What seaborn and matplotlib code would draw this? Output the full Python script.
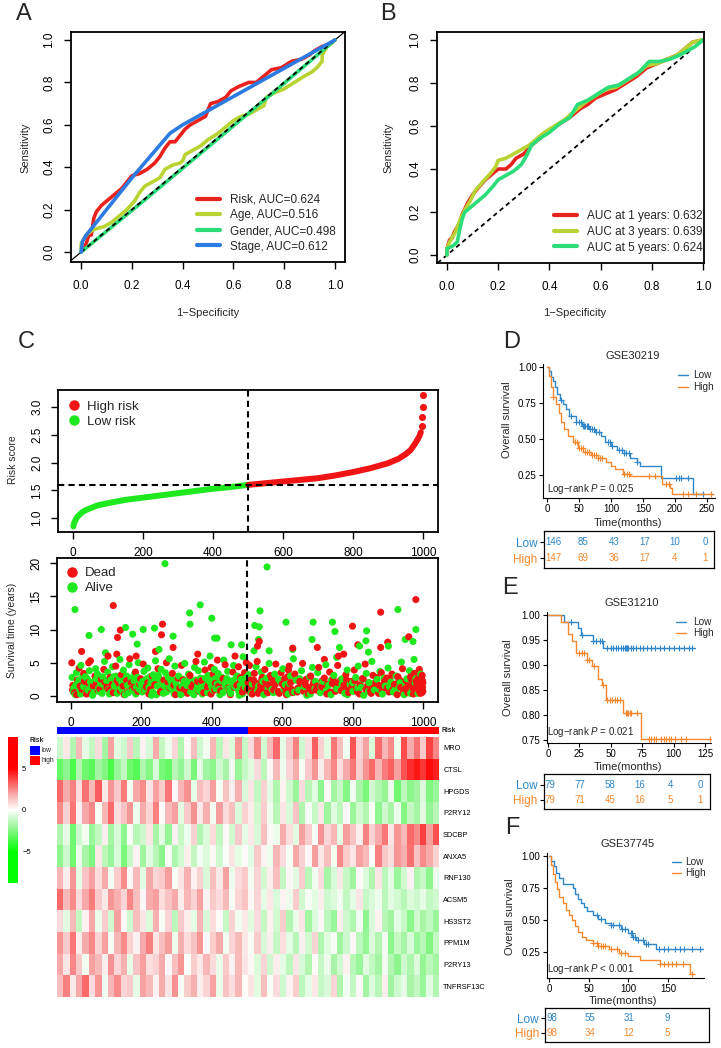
import numpy as np
import pandas as pd
import matplotlib
matplotlib.use("Agg")
import matplotlib.pyplot as plt
import seaborn as sns
from matplotlib.colors import LinearSegmentedColormap, ListedColormap
from matplotlib.lines import Line2D
from matplotlib.patches import Rectangle

sns.set_theme(style="white")
plt.rcParams['font.family'] = ['Liberation Sans', 'DejaVu Sans']
plt.rcParams['mathtext.fontset'] = 'custom'
plt.rcParams['mathtext.rm'] = 'Liberation Sans'
plt.rcParams['mathtext.it'] = 'Liberation Sans:italic'
plt.rcParams['axes.unicode_minus'] = True

# ---------------- DATA ----------------
# Panel A: ROC (fpr, tpr)
roc_risk = [(0, 0), (0.02, 0.04), (0.03, 0.08), (0.04, 0.08), (0.05, 0.16), (0.06, 0.19), (0.08, 0.22),
            (0.10, 0.24), (0.12, 0.26), (0.14, 0.28), (0.16, 0.30), (0.18, 0.33), (0.20, 0.36), (0.23, 0.37),
            (0.26, 0.39), (0.29, 0.42), (0.31, 0.45), (0.33, 0.49), (0.35, 0.52), (0.37, 0.52), (0.39, 0.55),
            (0.41, 0.58), (0.43, 0.60), (0.46, 0.62), (0.49, 0.64), (0.51, 0.70), (0.54, 0.71), (0.57, 0.73),
            (0.59, 0.76), (0.62, 0.78), (0.66, 0.80), (0.69, 0.80), (0.72, 0.83), (0.75, 0.86), (0.79, 0.87),
            (0.83, 0.90), (0.87, 0.91), (0.90, 0.93), (0.92, 0.95), (0.95, 0.97), (0.98, 0.98), (1.0, 1.0)]
roc_age = [(0, 0), (0.0, 0.04), (0.02, 0.08), (0.04, 0.10), (0.06, 0.11), (0.09, 0.12), (0.12, 0.14),
           (0.15, 0.17), (0.18, 0.20), (0.21, 0.24), (0.23, 0.28), (0.25, 0.31), (0.28, 0.33), (0.31, 0.35),
           (0.33, 0.39), (0.36, 0.41), (0.39, 0.42), (0.40, 0.43), (0.41, 0.46), (0.44, 0.48), (0.47, 0.50),
           (0.50, 0.53), (0.54, 0.56), (0.57, 0.59), (0.60, 0.62), (0.63, 0.64), (0.66, 0.65), (0.69, 0.67),
           (0.72, 0.69), (0.73, 0.73), (0.76, 0.75), (0.80, 0.77), (0.84, 0.80), (0.88, 0.83), (0.91, 0.85),
           (0.93, 0.87), (0.95, 0.90), (0.95, 0.93), (0.97, 0.97), (1.0, 1.0)]
roc_gender = [(0, 0), (0.25, 0.245), (0.5, 0.495), (0.75, 0.745), (1.0, 1.0)]
roc_stage = [(0, 0), (0.005, 0.05), (0.02, 0.08), (0.20, 0.35), (0.35, 0.56), (0.40, 0.60), (1.0, 1.0)]
labels_A = ["Risk, AUC=0.624", "Age, AUC=0.516", "Gender, AUC=0.498", "Stage, AUC=0.612"]

# Panel B: time-dependent ROC
roc_1y = [(0, 0.0), (0, 0.03), (0.01, 0.07), (0.02, 0.08), (0.03, 0.11), (0.05, 0.15), (0.06, 0.19),
          (0.08, 0.24), (0.10, 0.28), (0.12, 0.31), (0.15, 0.35), (0.18, 0.38), (0.20, 0.40), (0.23, 0.40),
          (0.25, 0.42), (0.27, 0.45), (0.30, 0.47), (0.33, 0.51), (0.36, 0.54), (0.40, 0.58), (0.44, 0.61),
          (0.48, 0.64), (0.52, 0.68), (0.55, 0.70), (0.58, 0.73), (0.62, 0.75), (0.66, 0.77), (0.70, 0.80),
          (0.74, 0.83), (0.78, 0.87), (0.82, 0.89), (0.86, 0.91), (0.90, 0.93), (0.93, 0.96), (0.96, 0.99),
          (1.0, 1.0)]
roc_3y = [(0, 0), (0, 0.03), (0.01, 0.06), (0.03, 0.10), (0.05, 0.16), (0.07, 0.21), (0.09, 0.25),
          (0.11, 0.30), (0.14, 0.34), (0.17, 0.38), (0.19, 0.41), (0.20, 0.44), (0.23, 0.45), (0.26, 0.47),
          (0.29, 0.49), (0.32, 0.51), (0.35, 0.54), (0.38, 0.57), (0.42, 0.60), (0.46, 0.63), (0.50, 0.67),
          (0.54, 0.71), (0.58, 0.74), (0.62, 0.77), (0.66, 0.78), (0.70, 0.81), (0.74, 0.84), (0.78, 0.88),
          (0.82, 0.89), (0.86, 0.91), (0.90, 0.93), (0.93, 0.96), (0.96, 0.99), (1.0, 1.0)]
roc_5y = [(0, 0), (0, 0.03), (0.02, 0.04), (0.04, 0.06), (0.05, 0.12), (0.06, 0.17), (0.07, 0.20),
          (0.09, 0.22), (0.12, 0.25), (0.15, 0.28), (0.18, 0.32), (0.20, 0.35), (0.23, 0.37), (0.26, 0.39),
          (0.29, 0.42), (0.31, 0.46), (0.33, 0.51), (0.36, 0.54), (0.40, 0.57), (0.44, 0.61), (0.48, 0.64),
          (0.51, 0.70), (0.55, 0.72), (0.59, 0.75), (0.63, 0.78), (0.67, 0.79), (0.71, 0.82), (0.75, 0.85),
          (0.79, 0.90), (0.83, 0.90), (0.87, 0.91), (0.91, 0.93), (0.94, 0.95), (0.97, 0.97), (0.99, 0.99),
          (1.0, 1.0)]
labels_B = ["AUC at 1 years: 0.632", "AUC at 3 years: 0.639", "AUC at 5 years: 0.624"]

# Panel C: risk score curve (patient index, score)
risk_low = [(1, 0.85), (2, 0.88), (3, 0.91), (5, 0.94), (8, 0.98), (12, 1.02), (18, 1.06), (25, 1.10),
            (35, 1.14), (50, 1.18), (70, 1.23), (100, 1.27), (150, 1.33), (200, 1.37), (250, 1.41),
            (300, 1.45), (350, 1.49), (400, 1.53), (450, 1.56), (500, 1.60)]
risk_high = [(501, 1.60), (550, 1.63), (600, 1.66), (650, 1.69), (700, 1.72), (750, 1.77), (800, 1.83),
             (850, 1.90), (900, 1.99), (930, 2.07), (950, 2.15), (965, 2.23), (975, 2.32), (983, 2.40),
             (990, 2.48), (994, 2.55)]
risk_high_tail = [(997, 2.67), (998, 2.82), (999, 3.01), (1000, 3.22)]
risk_cut = 1.6
risk_split = 500.5

# Panel C: survival time scatter (index, years)
alive_pts = [(11, 13.0), (51, 9.1), (86, 10.0), (98, 6.5), (155, 10.3), (175, 9.3), (188, 7.8), (205, 10.0),
             (237, 10.2), (250, 7.0), (267, 19.9), (290, 9.0), (337, 12.5), (338, 10.8), (367, 13.7),
             (400, 11.7), (408, 8.7), (415, 8.7), (395, 6.0), (455, 7.7), (485, 7.7), (520, 6.8),
             (522, 10.6), (535, 10.4), (537, 12.8), (533, 8.5), (557, 19.4), (563, 6.8), (611, 11.1),
             (630, 7.0), (685, 8.5), (688, 11.1), (743, 11.1), (750, 9.7), (763, 7.3), (820, 7.5),
             (840, 9.8), (838, 8.3), (845, 6.6), (929, 13.0), (902, 7.5), (950, 8.5), (972, 8.2),
             (975, 5.5), (980, 10.0),
             (3, 2.8), (8, 1.2), (12, 0.2), (15, 3.5), (20, 2.0), (25, 0.9), (28, 4.6), (33, 3.1), (38, 1.8),
             (42, 0.4), (46, 2.6), (52, 3.8), (57, 1.3), (61, 0.1), (66, 2.2), (70, 4.1), (75, 3.3), (80, 0.7),
             (84, 1.9), (90, 2.9), (95, 5.2), (99, 1.1), (104, 3.6), (109, 0.3), (113, 2.4), (118, 4.4),
             (123, 1.5), (128, 3.0), (134, 0.8), (139, 5.5), (144, 2.1), (149, 3.9), (154, 0.2), (160, 1.6),
             (165, 4.7), (170, 2.7), (176, 0.9), (181, 3.4), (186, 1.3), (191, 5.0), (196, 2.3), (202, 0.6),
             (207, 3.7), (212, 1.8), (218, 4.2), (224, 2.9), (229, 0.1), (234, 3.2), (240, 5.3), (245, 1.5),
             (251, 2.6), (256, 4.0), (262, 0.4), (268, 3.5), (273, 1.9), (279, 5.6), (284, 2.2), (290, 0.8),
             (295, 4.5), (301, 1.2), (306, 3.0), (312, 0.2), (318, 2.5), (323, 4.9), (329, 1.6), (334, 3.3),
             (340, 0.6), (346, 2.0), (351, 4.3), (357, 1.0), (362, 3.8), (368, 2.7), (373, 0.3), (379, 5.1),
             (385, 1.7), (390, 3.1), (396, 0.5), (401, 2.4), (407, 4.0), (412, 1.1), (418, 3.4), (423, 0.2),
             (429, 2.8), (434, 5.4), (440, 1.4), (445, 3.7), (451, 0.7), (456, 2.1), (462, 4.6), (467, 1.8),
             (473, 3.0), (478, 0.1), (484, 2.5), (489, 5.9), (495, 1.3), (505, 3.2), (512, 0.4), (518, 2.0),
             (526, 4.4), (533, 1.5), (541, 3.6), (548, 0.2), (556, 2.7), (563, 4.9), (571, 1.0), (579, 3.3),
             (586, 0.6), (594, 2.2), (602, 4.1), (609, 1.7), (617, 0.3), (624, 3.0), (632, 5.6), (640, 2.4),
             (647, 0.9), (655, 3.8), (663, 1.4), (670, 0.1), (678, 2.9), (686, 4.3), (693, 1.1), (701, 3.5),
             (709, 0.5), (716, 2.2), (724, 4.7), (732, 1.6), (739, 0.2), (747, 3.1), (755, 5.8), (762, 1.0),
             (770, 2.6), (778, 0.4), (785, 3.9), (793, 1.8), (801, 0.7), (809, 2.8), (816, 4.5), (824, 1.3),
             (832, 0.1), (839, 3.4), (847, 2.0), (855, 5.2), (862, 0.9), (870, 2.5), (878, 3.7), (885, 0.3),
             (893, 1.5), (901, 4.2), (909, 2.1), (916, 0.6), (924, 3.0), (932, 1.2), (939, 5.1), (947, 0.2),
             (955, 2.6), (962, 3.8), (970, 1.0), (978, 2.0), (986, 0.4), (994, 3.3),
             (6, 0.6), (14, 1.7), (22, 2.4), (27, 0.3), (35, 1.4), (40, 2.9), (48, 0.9), (55, 2.1), (59, 1.6),
             (64, 0.5), (72, 2.6), (78, 1.2), (88, 0.4), (92, 1.7), (101, 2.3), (107, 1.0), (115, 0.6),
             (121, 2.9), (126, 1.9), (131, 0.4), (137, 2.6), (142, 1.2), (147, 0.7), (152, 2.4), (158, 3.0),
             (163, 0.5), (168, 1.9), (173, 1.2), (179, 2.3), (184, 0.3), (189, 2.8), (194, 1.0), (199, 1.7),
             (204, 2.2), (210, 0.9), (215, 2.6), (221, 1.3), (227, 2.0), (232, 0.6), (238, 2.4), (243, 0.2),
             (248, 3.1), (254, 1.1), (259, 2.0), (265, 1.5), (271, 0.6), (276, 2.8), (282, 1.3), (287, 2.5),
             (293, 0.3), (298, 1.9), (304, 2.6), (309, 0.9), (315, 1.5), (321, 2.2), (326, 0.5), (332, 1.9),
             (337, 2.8), (343, 1.3), (349, 0.2), (354, 2.4), (360, 1.6), (365, 0.8), (371, 2.0), (376, 1.4),
             (382, 2.7), (388, 0.5), (393, 2.2), (399, 1.5), (404, 0.9), (410, 2.6), (415, 1.8), (421, 1.0),
             (426, 2.3), (432, 0.5), (437, 1.9), (443, 2.6), (448, 1.1), (454, 0.4), (459, 2.3), (465, 1.4),
             (470, 2.9), (476, 0.8), (481, 1.6), (487, 0.3), (492, 2.1), (498, 2.8),
             (515, 1.8), (530, 0.8), (545, 2.2), (560, 1.2), (575, 0.5), (590, 2.5), (605, 1.0), (620, 1.9),
             (635, 0.6), (650, 2.6), (665, 1.5), (680, 0.3), (695, 2.2), (710, 1.4), (725, 0.8), (740, 2.4),
             (755, 1.1), (770, 1.8), (785, 0.2), (800, 2.0), (815, 1.2), (830, 2.5), (845, 0.7), (860, 1.9),
             (875, 1.0), (890, 2.7), (905, 1.4), (920, 0.9), (935, 2.0), (950, 1.5), (965, 0.4), (980, 2.6)]
dead_pts = [(2, 5.0), (30, 6.7), (50, 5.0), (120, 13.6), (132, 8.8), (140, 9.9), (105, 6.0), (130, 6.3),
            (185, 6.0), (240, 6.7), (260, 10.8), (257, 9.2), (290, 7.3), (360, 6.3), (398, 4.3), (530, 7.5),
            (535, 8.2), (630, 7.2), (700, 7.3), (760, 6.0), (800, 10.5), (815, 7.7), (880, 7.3), (880, 12.6),
            (900, 8.1), (960, 8.9), (980, 14.5), (990, 4.0), (720, 5.5), (775, 6.3), (618, 3.9),
            (5, 1.6), (10, 0.5), (18, 2.4), (23, 4.2), (31, 1.0), (36, 3.4), (44, 0.3), (49, 2.0), (55, 5.3),
            (63, 1.5), (68, 3.0), (77, 0.8), (86, 2.5), (93, 4.0), (102, 1.3), (111, 2.8), (120, 0.5),
            (127, 4.5), (136, 1.9), (143, 3.2), (151, 0.2), (158, 2.3), (167, 5.6), (174, 1.1), (183, 3.6),
            (190, 0.7), (198, 2.6), (205, 4.8), (214, 1.4), (221, 0.3), (231, 3.0), (238, 1.7), (247, 4.1),
            (254, 0.6), (264, 2.4), (271, 5.0), (281, 1.2), (288, 3.4), (297, 0.2), (304, 2.7), (314, 4.6),
            (321, 1.0), (331, 0.4), (338, 3.1), (348, 1.8), (355, 5.2), (364, 0.7), (371, 2.3), (381, 3.9),
            (388, 1.4), (398, 0.3), (404, 3.3), (410, 1.9), (416, 5.4), (425, 0.8), (432, 2.6), (438, 4.7),
            (447, 1.2), (453, 0.2), (460, 3.6), (466, 6.0), (471, 1.6), (476, 4.4), (482, 2.8), (487, 0.6),
            (493, 3.5), (498, 5.0), (502, 1.1), (507, 4.6), (510, 2.4), (515, 0.3), (521, 3.4), (524, 1.7),
            (529, 5.2), (537, 0.9), (544, 2.8), (551, 4.0), (554, 1.3), (560, 0.5), (567, 3.1), (574, 2.1),
            (582, 4.8), (589, 0.7), (597, 3.5), (605, 1.5), (612, 0.2), (615, 2.9), (620, 4.5), (627, 1.0),
            (636, 3.3), (643, 0.6), (650, 2.2), (658, 4.9), (666, 1.7), (674, 0.4), (681, 3.0), (689, 2.0),
            (696, 0.9), (704, 4.3), (712, 1.4), (720, 2.7), (727, 0.3), (735, 3.6), (743, 1.9), (751, 0.7),
            (758, 4.6), (766, 2.4), (774, 1.1), (781, 3.2), (789, 0.5), (797, 2.2), (805, 3.9), (812, 1.2),
            (820, 0.3), (828, 2.6), (836, 4.8), (843, 1.6), (851, 0.8), (858, 3.1), (866, 2.0), (874, 0.4),
            (882, 3.5), (889, 1.4), (897, 2.7), (904, 0.6), (912, 3.3), (919, 1.7), (927, 0.2), (934, 2.4),
            (942, 4.1), (950, 1.1), (957, 0.5), (965, 2.9), (968, 1.6), (973, 0.3), (976, 3.4), (981, 2.2),
            (984, 0.9), (988, 1.4), (991, 2.7), (993, 0.4), (996, 1.8), (998, 3.1), (1000, 0.7), (999, 2.3),
            (995, 1.0),
            (4, 0.9), (16, 0.2), (26, 1.5), (38, 2.2), (47, 0.9), (58, 0.4), (71, 1.8), (82, 1.1), (96, 2.1),
            (108, 0.9), (116, 1.7), (131, 2.3), (140, 0.8), (148, 1.5), (162, 0.6), (171, 2.0), (180, 1.3),
            (195, 1.8), (209, 0.9), (218, 2.0), (226, 1.0), (243, 1.6), (258, 0.8), (275, 2.1), (292, 1.6),
            (309, 1.2), (318, 2.4), (326, 0.9), (343, 1.4), (360, 2.2), (377, 0.5), (392, 1.9), (408, 0.9),
            (420, 1.5), (436, 2.2), (450, 0.7), (464, 1.3), (479, 2.0), (490, 1.1),
            (503, 2.0), (506, 0.7), (512, 1.5), (519, 2.4), (523, 0.9), (527, 1.9), (532, 0.4), (539, 1.6),
            (542, 2.5), (547, 1.0), (553, 2.1), (558, 0.6), (562, 1.6), (570, 2.7), (576, 0.9), (580, 1.7),
            (586, 2.3), (592, 0.4), (600, 1.8), (607, 2.6), (611, 0.8), (618, 1.5), (624, 2.0), (630, 0.5),
            (639, 2.4), (645, 1.2), (653, 1.9), (661, 0.7), (668, 2.5), (676, 1.3), (684, 0.8), (692, 2.2),
            (699, 1.5), (707, 0.6), (714, 2.3), (722, 1.1), (730, 1.8), (737, 0.6), (745, 2.6), (753, 1.3),
            (760, 2.0), (768, 0.8), (776, 1.6), (783, 2.4), (791, 0.9), (799, 1.5), (807, 2.3), (814, 0.6),
            (822, 1.7), (830, 2.6), (838, 1.0), (846, 2.0), (853, 0.4), (861, 1.3), (868, 2.8), (876, 1.6),
            (884, 0.7), (891, 2.2), (899, 1.2), (906, 2.5), (914, 0.9), (922, 1.8), (929, 2.9), (937, 1.3),
            (944, 0.4), (952, 2.3), (959, 1.5), (963, 0.8), (967, 2.5), (971, 1.2), (974, 2.0), (979, 0.6),
            (983, 1.7), (986, 2.6), (989, 0.8), (992, 1.5), (994, 2.4), (997, 0.5), (999, 1.3), (1000, 2.0)]

# Panel C: heatmap (12 genes x 60 sample groups, low risk then high risk)
genes = ["MRO", "CTSL", "HPGDS", "P2RY12", "SDCBP", "ANXA5", "RNF130", "ACSM5", "HS3ST2", "PPM1M",
         "P2RY13", "TNFRSF13C"]
expr_MRO = [-1.0, 0.5, -1.5, 1.5, -0.5, -1.2, 0.8, -1.8, 2.0, -0.6, -1.0, 1.2, -1.4, 0.3, -0.8, 1.8, -1.2, -0.4, 0.9, -1.6,
            0.2, 1.4, -1.0, -0.3, 1.6, -1.3, 0.6, -0.7, 2.2, -1.1,
            0.8, 2.4, -0.9, 1.5, 3.0, -0.5, 1.2, 2.6, -1.0, 0.7, 3.2, 1.0, -0.6, 2.8, 1.4, -0.3, 3.4, 0.9, 2.0, -0.8,
            3.0, 1.6, 2.4, -0.4, 3.6, 1.8, 2.9, 1.2, 3.8, 2.5]
expr_CTSL = [-3.0, -2.2, -3.5, -1.5, -2.8, -3.2, -1.8, -2.5, -3.6, -2.0, -1.2, -2.9, -3.3, -1.6, -2.4, -0.8, -2.7, -3.0, -1.4, -2.1,
             -1.0, -2.6, -0.5, -1.9, -2.3, -0.9, -1.7, -0.3, -2.0, -1.1,
             -0.6, 0.8, -1.3, 0.2, 1.5, -0.4, 0.9, 1.8, -0.2, 1.2, 2.2, 0.4, 1.6, 2.5, 0.7, 1.9, 2.8, 1.1, 2.3, 3.0,
             1.6, 2.7, 3.2, 2.0, 3.4, 4.2, 4.6, 4.0, 4.8, 4.4]
expr_HPGDS = [3.0, 1.8, 2.6, 0.8, 2.9, 1.5, 3.3, 0.5, 2.2, 1.2, 2.7, -0.3, 1.9, 2.4, 0.6, 2.0, 1.1, 2.8, 0.2, 1.6,
              2.3, -0.5, 1.4, 0.9, 2.1, -0.2, 1.3, 0.4, 1.7, -0.8,
              0.6, -1.2, 1.0, -0.5, -1.6, 0.3, -1.0, -2.0, 0.8, -1.4, -0.6, -2.2, 0.2, -1.8, -1.1, -2.4, -0.3, -1.7, -2.6, -0.9,
              -1.5, -2.1, -0.4, -2.8, -1.3, -2.3, -1.9, -0.7, -2.5, -2.0]
expr_P2RY12 = [2.4, 1.0, 2.8, 0.3, 1.9, 2.5, -0.2, 1.6, 3.0, 0.7, 1.3, 2.2, -0.4, 1.8, 0.9, 2.6, 0.1, 1.5, 2.0, -0.6,
               1.2, 2.3, 0.5, 1.7, -0.3, 2.1, 0.8, 1.4, -0.7, 1.0,
               0.4, -0.9, 1.1, -0.3, -1.4, 0.6, -0.8, 1.3, -1.6, -0.2, -1.1, 0.5, -1.9, -0.6, -1.3, 0.2, -2.0, -0.9, -1.5, -0.1,
               -2.2, -1.0, -1.7, -0.4, -2.4, -1.2, -1.8, -0.6, -2.1, -1.4]
expr_SDCBP = [-1.5, -0.5, -2.8, -1.0, -0.3, -2.0, -1.2, 0.4, -1.8, -0.8, -2.3, -0.2, -1.4, -1.0, 0.6, -1.7, -0.6, -2.1, 0.3, -1.1,
              -0.4, 1.0, -1.5, -0.7, 0.8, -1.2, 0.2, -0.9, 1.2, -0.5,
              0.5, -0.8, 1.4, 0.2, -0.4, 1.8, 0.7, -0.6, 2.0, 1.1, -0.2, 2.3, 0.9, 1.6, -0.5, 2.1, 1.3, 0.4, 2.6, 1.0,
              1.9, 2.8, 0.6, 2.2, 1.5, 3.0, 2.4, 3.8, 2.0, 3.5]
expr_ANXA5 = [-2.2, -1.0, -2.8, -0.4, -1.7, -2.5, 0.5, -1.3, -2.0, -0.8, -2.6, -1.1, 0.3, -1.9, -0.6, -1.4, -2.3, -0.2, -1.6, -0.9,
              0.4, -1.2, -0.3, -0.7, 0.2, -1.0, -0.1, 0.6, -0.5, 0.1,
              -0.6, 1.2, 0.3, -0.4, 1.6, 0.8, -0.2, 1.9, 1.0, 0.2, 2.1, 0.5, 1.4, -0.3, 2.4, 1.1, 0.6, 2.0, 1.5, -0.1,
              2.6, 1.2, 0.7, 2.2, 1.7, 2.9, 1.3, 2.4, 1.8, 1.0]
expr_RNF130 = [1.6, 0.4, 2.2, -0.5, 1.3, 2.0, 0.7, 1.8, -0.3, 1.1, 2.4, 0.2, 1.5, -0.6, 1.9, 0.9, 1.2, 2.1, -0.2, 0.6,
               1.7, 0.3, 1.0, -0.8, 1.4, 0.5, 2.0, -0.4, 0.8, 1.2,
               -0.3, 1.0, -0.9, 0.4, 1.4, -1.2, 0.2, -0.6, 1.1, -1.4, -0.3, 0.7, -1.7, -0.8, 0.5, -1.1, -1.9, 0.1, -0.7, -1.5,
               0.6, -1.3, -0.5, -2.0, -0.9, 0.3, -1.6, -1.1, -2.2, -0.4]
expr_ACSM5 = [3.0, 1.5, 2.4, 0.8, 1.9, 2.7, 1.2, 0.5, 2.2, 1.7, 0.9, 2.5, 1.4, 0.2, 1.8, 2.1, 0.7, 1.3, 1.9, 0.4,
              1.6, 1.0, 2.0, 0.3, 1.2, 0.8, 1.5, -0.2, 0.9, 1.3,
              0.2, 0.9, -0.5, 0.5, -0.8, 0.3, -0.4, 1.1, -0.9, -0.2, -0.6, 0.4, -1.0, -0.7, -0.3, -1.2, -0.5, 0.6, -1.1, -0.8,
              -0.4, -1.3, -0.6, -0.9, -1.4, -0.7, -1.0, -0.5, -1.2, -0.9]
expr_HS3ST2 = [0.8, -0.6, 1.5, -1.2, 0.3, 1.9, -0.4, 1.1, -0.9, 2.0, 0.2, -1.0, 1.4, 0.6, -0.7, 1.7, -0.2, 0.9, -1.3, 1.2,
               0.4, -0.5, 1.6, -0.8, 0.7, 0.1, -1.1, 1.0, -0.3, 0.5,
               -0.6, 0.8, -1.2, 0.3, -0.9, 1.1, -1.5, -0.4, 0.6, -1.8, -0.7, 0.2, -1.3, -2.0, 0.4, -1.0, -1.6, -0.3, -2.2, -0.8,
               0.3, -1.4, -1.9, -0.5, -1.1, -2.3, -0.9, -1.7, -1.2, -2.0]
expr_PPM1M = [2.2, 1.2, 2.8, 0.4, 1.8, 2.5, 0.9, 2.0, -0.2, 1.6, 2.4, 1.0, 0.3, 1.9, 2.6, 0.6, 1.4, 2.1, -0.4, 1.7,
              0.8, 1.3, 2.2, 0.2, 1.1, 1.8, -0.3, 0.9, 1.5, 0.5,
              -0.2, 1.1, -0.8, 0.4, -1.1, 0.7, -0.5, -1.4, 0.3, -0.9, 0.9, -1.6, -0.6, -0.2, -1.9, -1.0, 0.2, -1.3, -2.1, -0.7,
              -1.5, -0.3, -2.3, -1.1, -1.7, -0.8, -2.0, -1.4, -2.5, -1.2]
expr_P2RY13 = [1.9, 0.6, 2.5, 1.2, -0.3, 2.0, 1.5, 0.4, 2.3, 0.9, 1.7, -0.5, 1.3, 2.1, 0.7, 1.0, 1.8, 0.2, 1.4, 2.2,
               -0.1, 1.1, 0.5, 1.6, 0.8, -0.4, 1.2, 0.3, 1.5, 0.6,
               0.2, -0.7, 0.9, -1.0, 0.4, -0.5, -1.3, 0.6, -0.8, -1.5, 0.1, -1.1, -0.4, -1.7, -0.9, 0.3, -1.4, -2.0, -0.6, -1.2,
               -1.8, -0.3, -1.5, -2.2, -1.0, -1.6, -0.7, -2.1, -1.3, -1.8]
expr_TNFRSF13C = [1.4, 2.6, 0.5, 1.9, 3.0, 0.8, 2.2, -0.3, 1.6, 2.4, 0.9, 1.2, -0.5, 2.0, 1.5, 0.3, 1.8, 0.6, 2.3, -0.2,
                  1.1, 1.7, 0.4, 0.9, 2.0, -0.4, 1.3, 0.7, 1.6, 0.1,
                  0.6, -0.6, 1.4, -0.2, 0.8, -1.0, 0.3, 1.1, -1.3, -0.5, 0.5, -1.1, -0.8, 0.9, -1.6, -0.3, -1.2, 0.2, -1.8, -0.7,
                  -1.4, 0.4, -1.9, -1.0, -0.5, -1.7, -1.2, -2.0, -0.6, -1.5]
risk_group = [0] * 30 + [1] * 30   # 0 = low, 1 = high

# Panels D-F: Kaplan-Meier step data (time in months, survival)
D_low = [(0, 1.0), (3, 0.97), (6, 0.93), (9, 0.90), (12, 0.86), (15, 0.81), (20, 0.77), (25, 0.74), (30, 0.71),
         (35, 0.66), (45, 0.62), (55, 0.59), (65, 0.57), (75, 0.55), (85, 0.52), (90, 0.48), (100, 0.45),
         (110, 0.42), (120, 0.40), (130, 0.37), (140, 0.34), (145, 0.31), (178, 0.23), (228, 0.12)]
D_low_end = 245
D_low_cens = [22, 38, 45, 50, 53, 56, 58, 60, 62, 64, 67, 70, 73, 77, 82, 95, 98, 101, 112, 117, 120, 123, 128,
              140, 202, 206, 210, 220, 244]
D_high = [(0, 1.0), (3, 0.94), (7, 0.86), (10, 0.79), (14, 0.74), (18, 0.68), (22, 0.62), (27, 0.57), (33, 0.52),
          (40, 0.48), (48, 0.44), (57, 0.41), (68, 0.39), (80, 0.37), (92, 0.34), (100, 0.31), (106, 0.29),
          (118, 0.26), (130, 0.24), (179, 0.19), (192, 0.16), (196, 0.12)]
D_high_end = 259
D_high_cens = [10, 44, 47, 50, 53, 56, 60, 63, 66, 70, 73, 76, 80, 83, 86, 120, 125, 128, 160, 168, 186, 190,
               212, 220, 233, 256]
D_times = [0, 50, 100, 150, 200, 250]
D_n_low = [146, 85, 43, 17, 10, 0]
D_n_high = [147, 69, 36, 17, 4, 1]

E_low = [(0, 1.0), (13, 0.987), (24, 0.974), (26, 0.961), (36, 0.948), (44, 0.935)]
E_low_end = 117
E_low_cens = [18, 27, 36, 38, 41, 43, 47, 50, 52, 54, 56, 58, 60, 61, 62, 63, 64, 66, 68, 70, 73, 76, 79, 82, 85,
              89, 92, 96, 100, 104, 108, 112, 115]
E_high = [(0, 1.0), (10, 0.987), (16, 0.962), (19, 0.949), (22, 0.924), (31, 0.911), (35, 0.898), (40, 0.872),
          (43, 0.860), (46, 0.830), (60, 0.805), (74, 0.753)]
E_high_end = 130
E_high_cens = [25, 27, 29, 31, 33, 37, 44, 47, 49, 51, 53, 55, 57, 62, 63, 64, 65, 66, 71, 80, 82, 84, 86, 90, 92,
               94, 96, 98, 101, 106, 110, 129]
E_times = [0, 25, 50, 75, 100, 125]
E_n_low = [79, 77, 58, 16, 4, 0]
E_n_high = [79, 71, 45, 16, 5, 1]

F_low = [(0, 1.0), (3, 0.96), (6, 0.92), (9, 0.87), (12, 0.83), (17, 0.78), (30, 0.75), (33, 0.70), (36, 0.66),
         (40, 0.63), (44, 0.60), (48, 0.57), (55, 0.54), (62, 0.51), (70, 0.48), (78, 0.46), (90, 0.43),
         (100, 0.40), (105, 0.37), (110, 0.34), (120, 0.31), (135, 0.27)]
F_low_end = 194
F_low_cens = [60, 65, 78, 80, 88, 92, 96, 103, 104, 106, 108, 112, 118, 122, 125, 138, 145, 150, 158, 165, 170,
              180, 190]
F_high = [(0, 1.0), (2, 0.93), (5, 0.86), (8, 0.80), (10, 0.74), (13, 0.68), (17, 0.63), (21, 0.58), (25, 0.54),
          (29, 0.50), (33, 0.45), (37, 0.41), (42, 0.37), (47, 0.34), (55, 0.32), (62, 0.30), (75, 0.27),
          (88, 0.24), (100, 0.22), (115, 0.19), (140, 0.16), (177, 0.08)]
F_high_end = 182
F_high_cens = [55, 60, 62, 66, 68, 70, 78, 85, 90, 95, 140, 145, 150, 155, 160, 168, 180]
F_times = [0, 50, 100, 150]
F_n_low = [98, 55, 31, 9]
F_n_high = [98, 34, 12, 5]

# ---------------- STYLE ----------------
W, H = 721, 1048
RED, YG, GRN, BLU = "#E8231E", "#B8D332", "#2BDC78", "#2C7BE0"
PT_RED, PT_GRN = "#F01414", "#1EE81E"
KM_BLUE, KM_ORANGE = "#2F86C8", "#F5882C"


def fx(x):
    return x / W


def fy(y):
    return 1 - y / H


def rect(l, t, r, b):
    return [l / W, 1 - b / H, (r - l) / W, (b - t) / H]


fig = plt.figure(figsize=(W / 100, H / 100), dpi=100)
fig.patch.set_facecolor("white")


def r_box(ax, xticks, yticks, xfmt, yfmt, fs=8.5, xpad=8.0, ypad=6.5):
    ax.set_xticks(xticks)
    ax.set_yticks(yticks)
    ax.set_xticklabels([xfmt.format(v) for v in xticks])
    ax.set_yticklabels([yfmt.format(v) for v in yticks], rotation=90, va="center")
    for s in ax.spines.values():
        s.set_visible(True)
        s.set_linewidth(1.3)
        s.set_color("black")
    ax.tick_params(direction="out", length=5, width=1.0, colors="black", labelsize=fs,
                   left=True, bottom=True, top=False, right=False)
    ax.tick_params(axis="x", pad=xpad)
    ax.tick_params(axis="y", pad=ypad)
    ax.set_xlabel("")
    ax.set_ylabel("")


def draw_curve(ax, pts, color, lw):
    xs = [p[0] for p in pts]
    ys = [p[1] for p in pts]
    sns.lineplot(x=xs, y=ys, sort=False, estimator=None, color=color, lw=lw, ax=ax)


# ---------------- PANEL A ----------------
axA = fig.add_axes(rect(71, 32, 345, 262))
axA.axline((0, 0), (1, 1), color="black", lw=0.9)
draw_curve(axA, roc_risk, RED, 2.6)
draw_curve(axA, roc_age, YG, 2.6)
draw_curve(axA, roc_gender, GRN, 2.6)
axA.plot([0, 1], [0, 1], color="black", lw=1.3, dashes=(2.5, 2))
draw_curve(axA, roc_stage, BLU, 2.6)
axA.set_xlim(-0.04, 1.04)
axA.set_ylim(-0.047, 1.038)
r_box(axA, [0, 0.2, 0.4, 0.6, 0.8, 1.0], [0, 0.2, 0.4, 0.6, 0.8, 1.0], "{:.1f}", "{:.1f}")
hA = [Line2D([0], [0], color=c, lw=3) for c in [RED, YG, GRN, BLU]]
axA.legend(hA, labels_A, loc="lower right", bbox_to_anchor=(1.0, 0.0), frameon=False, fontsize=8.5,
           handlelength=2.0, handletextpad=0.8, labelspacing=0.3, borderaxespad=0.4)
fig.text(fx(24), fy(14), "A", fontsize=17, ha="center", va="center")
fig.text(fx(208), fy(313), "1\u2212Specificity", fontsize=8, ha="center", va="center")
fig.text(fx(25), fy(148), "Sensitivity", fontsize=8, ha="center", va="center", rotation=90)

# ---------------- PANEL B ----------------
axB = fig.add_axes(rect(437, 32, 704, 263))
axB.axline((0, 0), (1, 1), color="black", lw=1.3, dashes=(2.5, 2))
draw_curve(axB, roc_1y, RED, 2.6)
draw_curve(axB, roc_3y, YG, 2.6)
draw_curve(axB, roc_5y, GRN, 2.6)
axB.set_xlim(-0.039, 1.004)
axB.set_ylim(-0.037, 1.037)
r_box(axB, [0, 0.2, 0.4, 0.6, 0.8, 1.0], [0, 0.2, 0.4, 0.6, 0.8, 1.0], "{:.1f}", "{:.1f}")
hB = [Line2D([0], [0], color=c, lw=3) for c in [RED, YG, GRN]]
axB.legend(hB, labels_B, loc="lower right", bbox_to_anchor=(1.03, 0.0), frameon=False, fontsize=8.5,
           handlelength=2.0, handletextpad=0.8, labelspacing=0.3, borderaxespad=0.4)
fig.text(fx(388), fy(14), "B", fontsize=17, ha="center", va="center")
fig.text(fx(575), fy(313), "1\u2212Specificity", fontsize=8, ha="center", va="center")
fig.text(fx(388), fy(148), "Sensitivity", fontsize=8, ha="center", va="center", rotation=90)

# ---------------- PANEL C: risk score ----------------
fig.text(fx(26), fy(342), "C", fontsize=17, ha="center", va="center")
axC1 = fig.add_axes(rect(58, 390, 438, 532))
draw_curve(axC1, risk_low, PT_GRN, 4.3)
draw_curve(axC1, risk_high, PT_RED, 4.3)
tail = pd.DataFrame(risk_high_tail, columns=["idx", "score"])
sns.scatterplot(data=tail, x="idx", y="score", color=PT_RED, s=26, linewidth=0, ax=axC1)
axC1.axhline(risk_cut, color="black", lw=1.5, dashes=(3, 2))
axC1.axvline(risk_split, color="black", lw=1.5, dashes=(3, 2))
axC1.set_xlim(-43, 1043)
axC1.set_ylim(0.75, 3.31)
r_box(axC1, [0, 200, 400, 600, 800, 1000], [1.0, 1.5, 2.0, 2.5, 3.0], "{:d}", "{:.1f}", xpad=6.0, ypad=5.5)
hC1 = [Line2D([0], [0], ls="none", marker="o", ms=6.5, color=c) for c in [PT_RED, PT_GRN]]
axC1.legend(hC1, ["High risk", "Low risk"], loc="upper left", bbox_to_anchor=(0.0, 1.0), frameon=False,
            fontsize=9.5, handlelength=0.8, handletextpad=0.6, labelspacing=0.2, borderaxespad=0.4)
fig.text(fx(13), fy(460), "Risk score", fontsize=7.5, ha="center", va="center", rotation=90)

# ---------------- PANEL C: survival time ----------------
axC2 = fig.add_axes(rect(57, 558, 438, 702))
surv_df = pd.concat([pd.DataFrame(alive_pts, columns=["idx", "years"]).assign(status="Alive"),
                     pd.DataFrame(dead_pts, columns=["idx", "years"]).assign(status="Dead")])
surv_df = surv_df.sort_values("idx", kind="stable")
sns.scatterplot(data=surv_df, x="idx", y="years", hue="status", palette={"Alive": PT_GRN, "Dead": PT_RED},
                s=26, linewidth=0, legend=False, ax=axC2)
axC2.axvline(risk_split, color="black", lw=1.5, dashes=(3, 2))
axC2.set_xlim(-40, 1043)
axC2.set_ylim(-0.9, 20.75)
r_box(axC2, [0, 200, 400, 600, 800, 1000], [0, 5, 10, 15, 20], "{:d}", "{:d}", xpad=6.0, ypad=5.5)
hC2 = [Line2D([0], [0], ls="none", marker="o", ms=6.5, color=c) for c in [PT_RED, PT_GRN]]
axC2.legend(hC2, ["Dead", "Alive"], loc="upper left", bbox_to_anchor=(0.0, 1.0), frameon=False,
            fontsize=9.5, handlelength=0.8, handletextpad=0.6, labelspacing=0.2, borderaxespad=0.3)
fig.text(fx(12), fy(630), "Survival time (years)", fontsize=7.5, ha="center", va="center", rotation=90)

# ---------------- PANEL C: heatmap ----------------
expr = pd.DataFrame([expr_MRO, expr_CTSL, expr_HPGDS, expr_P2RY12, expr_SDCBP, expr_ANXA5, expr_RNF130,
                     expr_ACSM5, expr_HS3ST2, expr_PPM1M, expr_P2RY13, expr_TNFRSF13C], index=genes)
gwr = LinearSegmentedColormap.from_list(
    "gwr", [(0.0, "#00FF00"), (0.213, "#00FF00"), (0.40, "#A8F5A8"), (0.5, "#FFFFFF"),
            (0.60, "#F7B0B0"), (0.787, "#FF0000"), (1.0, "#FF0000")])
hax = fig.add_axes(rect(57, 737, 439, 997))
cax = fig.add_axes(rect(8, 737, 18, 883))
sns.heatmap(expr, cmap=gwr, vmin=-8.7, vmax=8.7, ax=hax, cbar_ax=cax, xticklabels=False,
            yticklabels=genes, cbar_kws={"ticks": [-5, 0, 5]}, linewidths=0, rasterized=True)
hax.yaxis.tick_right()
hax.set_yticklabels(genes, rotation=0, fontsize=5.3, color="black")
hax.tick_params(length=0, pad=3, right=True, left=False)
hax.set_xlabel("")
hax.set_ylabel("")
cb = hax.collections[0].colorbar
cb.outline.set_visible(False)
cax.tick_params(labelsize=5.5, length=0, pad=3, colors="black")

rax = fig.add_axes(rect(57, 727, 439, 734))
sns.heatmap(pd.DataFrame([risk_group]), cmap=ListedColormap(["#0000FF", "#FF0000"]), vmin=0, vmax=1,
            cbar=False, xticklabels=False, yticklabels=False, ax=rax, rasterized=True)
rax.set_xlabel("")
rax.set_ylabel("")
fig.text(fx(442), fy(731), "Risk", fontsize=4.8, weight="bold", ha="left", va="center")
fig.text(fx(30), fy(740), "Risk", fontsize=4.8, weight="bold", ha="left", va="center")
fig.add_artist(Rectangle((fx(30), fy(755)), 10 / W, 9 / H, transform=fig.transFigure, color="#0000FF", lw=0))
fig.add_artist(Rectangle((fx(30), fy(765)), 10 / W, 9 / H, transform=fig.transFigure, color="#FF0000", lw=0))
fig.text(fx(42), fy(750), "low", fontsize=4.8, ha="left", va="center")
fig.text(fx(42), fy(760), "high", fontsize=4.8, ha="left", va="center")


# ---------------- PANELS D-F ----------------
def surv_at(steps, t):
    times = [p[0] for p in steps]
    i = int(np.searchsorted(times, t, side="right")) - 1
    return steps[i][1]


def km_panel(r, xlim, ylim, xticks, yticks, curves):
    ax = fig.add_axes(r)
    for steps, end, cens, col in curves:
        xs = [p[0] for p in steps] + [end]
        ys = [p[1] for p in steps] + [steps[-1][1]]
        sns.lineplot(x=xs, y=ys, sort=False, estimator=None, drawstyle="steps-post", color=col, lw=1.0, ax=ax)
        ax.plot(cens, [surv_at(steps, c) for c in cens], ls="none", marker="+", ms=5, mew=0.8, color=col)
    ax.set_xlim(xlim)
    ax.set_ylim(ylim)
    ax.set_xticks(xticks)
    ax.set_yticks(yticks)
    ax.set_xticklabels([str(v) for v in xticks])
    ax.set_yticklabels(["{:.2f}".format(v) for v in yticks])
    sns.despine(ax=ax)
    for s in ["left", "bottom"]:
        ax.spines[s].set_linewidth(0.8)
        ax.spines[s].set_color("black")
    ax.tick_params(direction="out", length=3, width=0.8, colors="black", labelsize=7, pad=1.5,
                   left=True, bottom=True)
    ax.set_xlabel("")
    ax.set_ylabel("")
    return ax


def risk_table(r, xlim, times, nlow, nhigh):
    t = fig.add_axes(r)
    t.set_xlim(xlim)
    t.set_ylim(0, 1)
    for tt, n in zip(times, nlow):
        t.text(tt, 0.70, str(n), color=KM_BLUE, fontsize=7, ha="center", va="center")
    for tt, n in zip(times, nhigh):
        t.text(tt, 0.27, str(n), color=KM_ORANGE, fontsize=7, ha="center", va="center")
    t.set_xticks([])
    t.set_yticks([0.27, 0.70])
    t.set_yticklabels(["High", "Low"], fontsize=8.5)
    for lab, col in zip(t.get_yticklabels(), [KM_ORANGE, KM_BLUE]):
        lab.set_color(col)
    for s in t.spines.values():
        s.set_visible(True)
        s.set_linewidth(0.9)
        s.set_color("black")
    t.tick_params(axis="y", direction="out", length=3, width=0.8, color="black", pad=1.5, left=True)
    t.set_facecolor("white")
    return t


def km_legend(x0, x1, xt, y_low, y_high):
    fig.add_artist(Line2D([fx(x0), fx(x1)], [fy(y_low), fy(y_low)], color=KM_BLUE, lw=1.0,
                          transform=fig.transFigure))
    fig.add_artist(Line2D([fx(x0), fx(x1)], [fy(y_high), fy(y_high)], color=KM_ORANGE, lw=1.0,
                          transform=fig.transFigure))
    fig.text(fx(xt), fy(y_low), "Low", fontsize=7.2, ha="left", va="center")
    fig.text(fx(xt), fy(y_high), "High", fontsize=7.2, ha="left", va="center")


# D
km_panel(rect(543, 364, 715, 498), (-6.25, 262.5), (0.09, 1.02), D_times, [0.25, 0.50, 0.75, 1.00],
         [(D_low, D_low_end, D_low_cens, KM_BLUE), (D_high, D_high_end, D_high_cens, KM_ORANGE)])
fig.text(fx(512), fy(342), "D", fontsize=17, ha="center", va="center")
fig.text(fx(633), fy(356), "GSE30219", fontsize=8, ha="center", va="center")
fig.text(fx(507), fy(420), "Overall survival", fontsize=8, ha="center", va="center", rotation=90)
fig.text(fx(628), fy(523), "Time(months)", fontsize=8, ha="center", va="center")
fig.text(fx(547), fy(489), "Log\u2212rank $\\mathit{P}$ = 0.025", fontsize=7, ha="left", va="center")
km_legend(678, 688, 693, 375, 387)
risk_table(rect(544, 531, 714, 568), (-14.8, 264.8), D_times, D_n_low, D_n_high)

# E
km_panel(rect(546.5, 612, 710.7, 743), (-1.2, 129.5), (0.744, 1.006), E_times,
         [0.75, 0.80, 0.85, 0.90, 0.95, 1.00],
         [(E_low, E_low_end, E_low_cens, KM_BLUE), (E_high, E_high_end, E_high_cens, KM_ORANGE)])
fig.text(fx(510), fy(588), "E", fontsize=17, ha="center", va="center")
fig.text(fx(632), fy(603), "GSE31210", fontsize=8, ha="center", va="center")
fig.text(fx(508), fy(678), "Overall survival", fontsize=8, ha="center", va="center", rotation=90)
fig.text(fx(628), fy(767), "Time(months)", fontsize=8, ha="center", va="center")
fig.text(fx(547), fy(732), "Log\u2212rank $\\mathit{P}$ = 0.021", fontsize=7, ha="left", va="center")
km_legend(676, 686, 693, 622, 633)
risk_table(rect(544, 774, 710, 809), (-5, 133), E_times, E_n_low, E_n_high)

# F
km_panel(rect(546.7, 853, 704, 978), (-2.9, 195), (0.047, 1.023), F_times, [0.25, 0.50, 0.75, 1.00],
         [(F_low, F_low_end, F_low_cens, KM_BLUE), (F_high, F_high_end, F_high_cens, KM_ORANGE)])
fig.text(fx(512), fy(828), "F", fontsize=17, ha="center", va="center")
fig.text(fx(628), fy(844), "GSE37745", fontsize=8, ha="center", va="center")
fig.text(fx(510), fy(917), "Overall survival", fontsize=8, ha="center", va="center", rotation=90)
fig.text(fx(623), fy(1001), "Time(months)", fontsize=8, ha="center", va="center")
fig.text(fx(547), fy(969), "Log\u2212rank $\\mathit{P}$ < 0.001", fontsize=7, ha="left", va="center")
km_legend(672, 681, 685, 862, 873)
risk_table(rect(545, 1008, 709, 1042), (-9, 204.8), F_times, F_n_low, F_n_high)

fig.savefig("out.png", dpi=100, facecolor="white")
